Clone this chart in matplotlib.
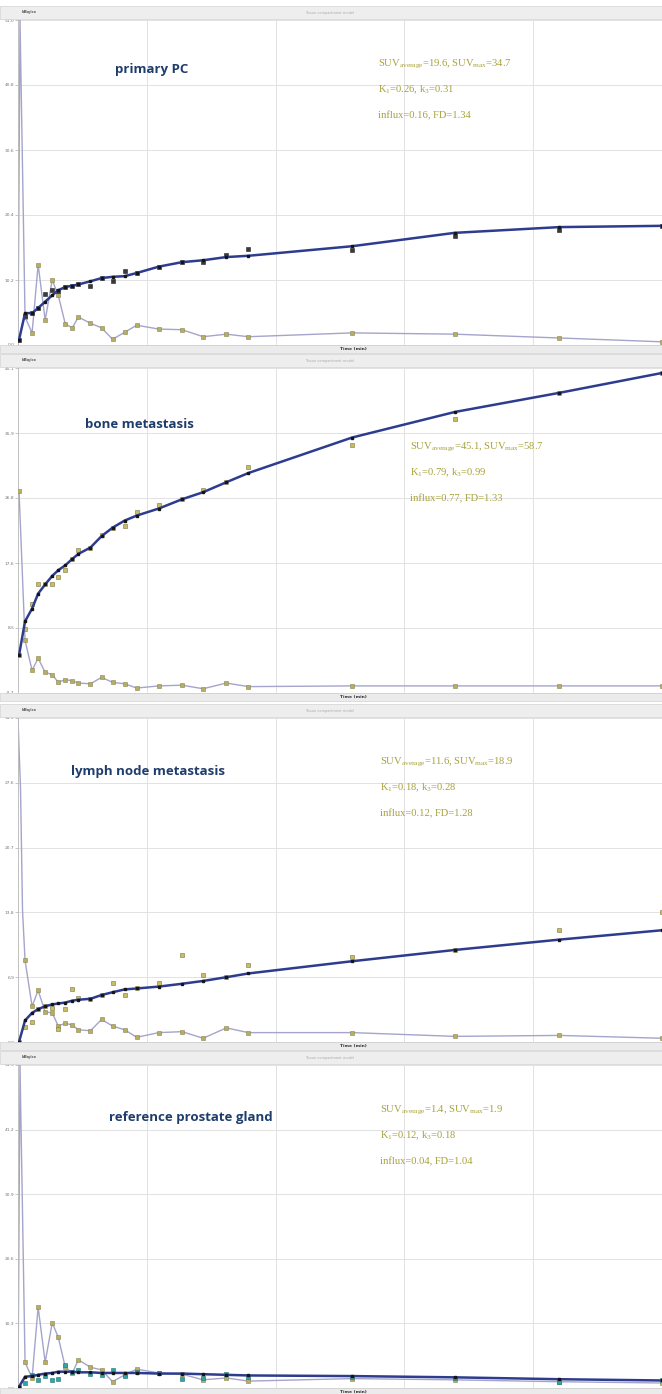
import numpy as np
import matplotlib
matplotlib.use("Agg")
import matplotlib.pyplot as plt
from matplotlib.patches import Rectangle

plt.rcParams['mathtext.fontset'] = 'custom'
plt.rcParams['mathtext.rm'] = 'Liberation Serif'
plt.rcParams['mathtext.it'] = 'Liberation Serif:italic'

# frame mid times (min), shared by fit and measured points
times = [0.1, 0.7, 1.4, 2.0, 2.7, 3.4, 4.0, 4.7, 5.4, 6.0, 7.2, 8.3,
         9.4, 10.6, 11.8, 14.0, 16.3, 18.4, 20.7, 22.9, 33.2, 43.4, 53.8, 64.0]

# panel 1: primary PC
in1_t = [0.0, 0.2, 0.7, 1.4, 2.0, 2.7, 3.4, 4.0, 4.7, 5.4, 6.0, 7.2, 8.3,
         9.4, 10.6, 11.8, 14.0, 16.3, 18.4, 20.7, 22.9, 33.2, 43.4, 53.8, 64.0]
in1 = [0.0, 51.0, 4.4, 1.9, 12.6, 3.9, 10.2, 7.8, 3.3, 2.7, 4.4, 3.4, 2.7,
       0.9, 2.0, 3.1, 2.5, 2.4, 1.3, 1.7, 1.3, 1.9, 1.7, 1.1, 0.5]
fit1 = [0.8, 5.0, 5.0, 5.8, 6.8, 7.8, 8.6, 9.1, 9.3, 9.5, 10.0, 10.5,
        10.7, 10.8, 11.3, 12.3, 13.0, 13.3, 13.8, 14.0, 15.5, 17.6, 18.5, 18.7]
meas1 = [0.8, 4.6, 5.0, 5.8, 8.0, 8.6, 8.4, 9.1, 9.3, 9.5, 9.3, 10.5,
         10.0, 11.6, 11.3, 12.3, 13.0, 13.0, 14.1, 15.1, 14.9, 17.1, 18.0, 18.7]

# panel 2: bone metastasis
in2_t = times
in2 = [27.8, 6.7, 2.5, 4.2, 2.2, 1.9, 0.8, 1.2, 1.0, 0.7, 0.6, 1.5,
       0.8, 0.6, 0.0, 0.3, 0.4, -0.1, 0.7, 0.2, 0.3, 0.3, 0.3, 0.3]
fit2 = [4.6, 9.4, 11.2, 13.3, 14.6, 15.8, 16.6, 17.3, 18.2, 18.9, 19.8, 21.4,
        22.6, 23.6, 24.3, 25.3, 26.6, 27.6, 29.0, 30.3, 35.3, 38.9, 41.6, 44.4]
meas2 = [4.6, 8.3, 11.8, 14.6, 14.6, 14.6, 15.7, 16.7, 18.2, 19.4, 19.8, 21.5,
         22.6, 22.8, 24.8, 25.8, 26.6, 27.9, 29.1, 31.2, 34.3, 37.9, 41.6, 44.4]

# panel 3: lymph node metastasis
in3_t = [0.0, 0.25, 0.45, 0.7, 1.4, 2.0, 2.7, 3.4, 4.0, 4.7, 5.4, 6.0, 7.2,
         8.3, 9.4, 10.6, 11.8, 14.0, 16.3, 18.4, 20.7, 22.9, 33.2, 43.4, 53.8, 64.0]
in3 = [34.3, 27.0, 14.0, 8.7, 3.8, 5.5, 3.2, 3.1, 1.7, 2.0, 1.8, 1.3, 1.2,
       2.4, 1.7, 1.3, 0.5, 1.0, 1.1, 0.4, 1.5, 1.0, 1.0, 0.6, 0.7, 0.4]
fit3 = [0.0, 2.3, 3.1, 3.5, 3.8, 4.0, 4.1, 4.2, 4.4, 4.5, 4.6, 5.0,
        5.3, 5.6, 5.7, 5.9, 6.2, 6.5, 6.9, 7.3, 8.6, 9.8, 10.9, 11.9]
meas3 = [0.0, 1.6, 2.1, 3.5, 3.8, 3.6, 1.4, 3.5, 5.6, 4.7, 4.6, 5.0,
         6.3, 5.0, 5.7, 6.3, 9.3, 7.1, 6.9, 8.2, 9.0, 9.8, 11.9, 13.8]

# panel 4: reference prostate gland
in4_t = in1_t
in4 = [0.0, 51.5, 4.1, 1.6, 12.9, 4.1, 10.4, 8.1, 3.3, 2.4, 4.5, 3.3, 2.9,
       1.0, 2.1, 3.0, 2.4, 2.2, 1.3, 1.6, 1.1, 1.5, 1.3, 1.0, 0.8]
fit4 = [0.2, 1.8, 1.9, 2.1, 2.3, 2.4, 2.6, 2.6, 2.6, 2.5, 2.5, 2.4,
        2.4, 2.4, 2.4, 2.3, 2.3, 2.2, 2.1, 2.0, 1.9, 1.7, 1.4, 1.2]
meas4 = [0.2, 0.8, 2.0, 1.3, 1.9, 1.3, 1.4, 3.7, 2.6, 2.9, 2.2, 2.0,
         2.9, 1.9, 2.5, 2.4, 1.4, 1.6, 2.3, 1.8, 1.8, 1.6, 1.0, 1.2]

titles = ['primary PC', 'bone metastasis', 'lymph node metastasis',
          'reference prostate gland']
suv_avg = ['19.6', '45.1', '11.6', '1.4']
suv_max = ['34.7', '58.7', '18.9', '1.9']
k1_vals = ['0.26', '0.79', '0.18', '0.12']
k3_vals = ['0.31', '0.99', '0.28', '0.18']
influx = ['0.16', '0.77', '0.12', '0.04']
fd_vals = ['1.34', '1.33', '1.28', '1.04']

x_ticks = [0.0, 12.8, 25.6, 38.4, 51.2, 64.0]
x_ticklabels = ['0.0', '12.8', '25.6', '38.4', '51.2', '64.0']
y_ticks = [[0.0, 10.2, 20.4, 30.6, 40.8, 51.0],
           [-0.7, 8.5, 17.6, 26.8, 35.9, 45.1],
           [0.0, 6.9, 13.8, 20.7, 27.6, 34.5],
           [0.0, 10.3, 20.6, 30.9, 41.2, 51.5]]

W, H = 662, 1394
fig = plt.figure(figsize=(W / 100, H / 100), dpi=100)
fig.patch.set_facecolor('white')


def rect(x0, y0, x1, y1):
    ''' pixel box (from top left) -> figure fraction rect '''
    return [x0 / W, 1 - y1 / H, (x1 - x0) / W, (y1 - y0) / H]


def fx(x):
    return x / W


def fy(y):
    return 1 - y / H


def band(x0, y0, x1, y1, color):
    fig.patches.append(Rectangle((fx(x0), fy(y1)), (x1 - x0) / W, (y1 - y0) / H,
                                 transform=fig.transFigure, facecolor=color,
                                 edgecolor='#d2d2d2', lw=0.5, zorder=0))


# layout in pixels
plot_tops = [20, 368, 718, 1065]
plot_bots = [345, 693, 1042, 1388]
title_pos = [(152, 69), (139, 424), (148, 772), (191, 1117)]
note_pos = [(378, 64), (410, 447), (380, 762), (380, 1110)]
marker_start = [2, 0, 3, 2]  # no marker on the bolus spike
meas_face = ['#3a3a3a', '#c9bd62', '#c9bd62', '#2fa6a6']
meas_edge = ['#222222', '#7a7340', '#7a7340', '#1d6f70']

inputs = [(in1_t, in1), (in2_t, in2), (in3_t, in3), (in4_t, in4)]
fits = [fit1, fit2, fit3, fit4]
meass = [meas1, meas2, meas3, meas4]

for i in range(4):
    top, bot = plot_tops[i], plot_bots[i]
    # header and time bands like the PMOD window
    band(0, top - 14, W, top - 1, '#eeeeee')
    band(0, bot, W, bot + 8, '#ebebeb')
    fig.text(fx(22), fy(top - 8), 'kBq/cc', fontsize=3, fontweight='bold',
             color='#555555', va='center')
    fig.text(fx(330), fy(top - 7), 'Tissue compartment model', fontsize=2.5,
             color='#aaaaaa', ha='center', va='center')

    ax = fig.add_axes(rect(18, top, W, bot))
    ax.set_xlim(0, 64)
    ax.set_ylim(y_ticks[i][0], y_ticks[i][-1])
    ax.set_xticks(x_ticks)
    ax.set_xticklabels(x_ticklabels)
    ax.get_xticklabels()[-1].set_horizontalalignment('right')
    ax.set_yticks(y_ticks[i])
    ax.set_yticklabels(['%.1f' % v for v in y_ticks[i]])
    ax.tick_params(axis='x', length=0, pad=1.5, labelsize=3.2,
                   labelcolor='#777777')
    ax.tick_params(axis='y', length=2, width=0.4, pad=0.5, labelsize=3.2,
                   labelcolor='#777777', color='#999999')
    ax.grid(True, color='#e2e2e2', lw=0.7)
    ax.set_axisbelow(True)
    for s in ['top', 'right']:
        ax.spines[s].set_visible(False)
    for s in ['left', 'bottom']:
        ax.spines[s].set_color('#bbbbbb')
        ax.spines[s].set_linewidth(0.6)

    t_in, v_in = inputs[i]
    m0 = marker_start[i]
    ax.plot(t_in, v_in, color='#a4a4cc', lw=1.0, zorder=2)
    ax.plot(t_in[m0:], v_in[m0:], linestyle='none', marker='s', ms=2.2,
            mfc='#b8ae62', mec='#8a8450', mew=0.4, zorder=3)
    ax.plot(times, meass[i], linestyle='none', marker='s', ms=2.4,
            mfc=meas_face[i], mec=meas_edge[i], mew=0.4, zorder=3)
    ax.plot(times, fits[i], color='#2d3c8e', lw=1.8, marker='s', ms=2.0,
            mfc='#151515', mec='#151515', zorder=4)

    fig.text(fx(340), fy(bot + 4), 'Time (min)', fontsize=3.2,
             fontweight='bold', color='#333333', va='center')

    tx, ty = title_pos[i]
    fig.text(fx(tx), fy(ty), titles[i], fontsize=9.5, fontweight='bold',
             family='Open Sans', color='#1f3d6c', ha='center', va='center')

    nx, ny = note_pos[i]
    notes = [r'SUV$_{\rm average}$=%s, SUV$_{\rm max}$=%s' % (suv_avg[i], suv_max[i]),
             r'K$_{\rm 1}$=%s, k$_{\rm 3}$=%s' % (k1_vals[i], k3_vals[i]),
             'influx=%s, FD=%s' % (influx[i], fd_vals[i])]
    for j, note in enumerate(notes):
        fig.text(fx(nx), fy(ny + j * 26), note, fontsize=7.6,
                 family='Liberation Serif', color='#a6a23a', va='center')

fig.savefig('out.png', dpi=100)
